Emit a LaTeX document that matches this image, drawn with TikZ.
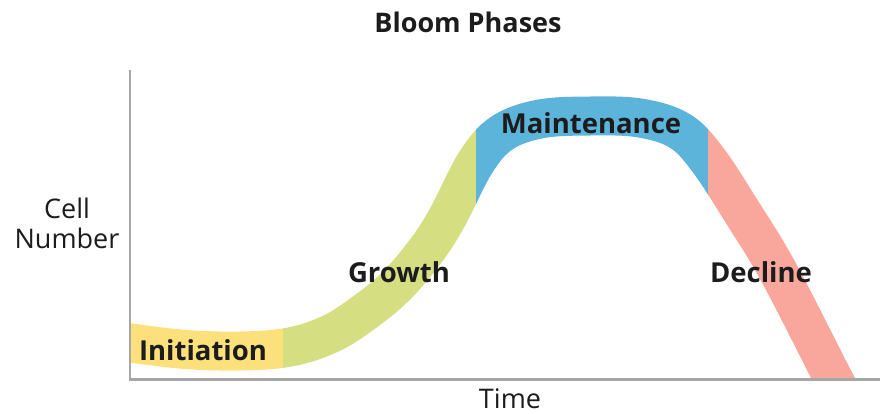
\documentclass[tikz,border=0pt]{standalone}
\usepackage{fontspec}
\setmainfont{Open Sans}
\definecolor{cy}{HTML}{FCE07C}
\definecolor{cg}{HTML}{D6DE82}
\definecolor{cb}{HTML}{5DB4DB}
\definecolor{cr}{HTML}{F9A79C}
\definecolor{axisgray}{HTML}{A6A6A6}
\definecolor{ink}{HTML}{1C1C1C}
\tikzset{
  band/.style={line width=39pt},
  axisline/.style={draw=axisgray, line width=2.4pt},
  phase/.style={font=\fontsize{27.5}{27.5}\selectfont\bfseries, text=ink, anchor=base, inner sep=0pt},
  axlabel/.style={font=\fontsize{27}{27}\selectfont, text=ink, anchor=base, inner sep=0pt},
}
\begin{document}
\begin{tikzpicture}[x=1pt,y=-1pt]
\useasboundingbox (0,0) rectangle (880,413);
\foreach \xa/\xb/\col in {130/283.5/cy, 283/476.5/cg, 476/708.5/cb, 708/900/cr} {
  \begin{scope}
    \clip (\xa,0) rectangle (\xb,379);
    \draw[band, \col] plot[smooth, tension=0.6] coordinates {
      (110,340) (180,349) (240,351) (290,347) (330,334) (362,314) (395,287) (425,252)
      (447,218) (476,162) (502,133) (540,119) (590,116) (640,118) (680,131) (708,160)
      (742,212) (779,273) (834,380) (852,412)};
  \end{scope}
}
\draw[axisline] (130,70) coordinate (ytop) -- (130,379.5) coordinate (origin) -- (880,379.5) coordinate (xend);
\node[font=\fontsize{27}{27}\selectfont\bfseries, text=ink, anchor=base, inner sep=0pt] (title) at (468,32) {Bloom Phases};
\node[phase] (init) at (203,360) {Initiation};
\node[phase] (growth) at (399,282) {Growth};
\node[phase] (maint) at (591,133) {Maintenance};
\node[phase] (decl) at (761,282) {Decline};
\node[axlabel] (cell) at (67,218) {Cell};
\node[axlabel] (number) at (67,248) {Number};
\node[axlabel] (time) at (510,408) {Time};
\end{tikzpicture}
\end{document}
